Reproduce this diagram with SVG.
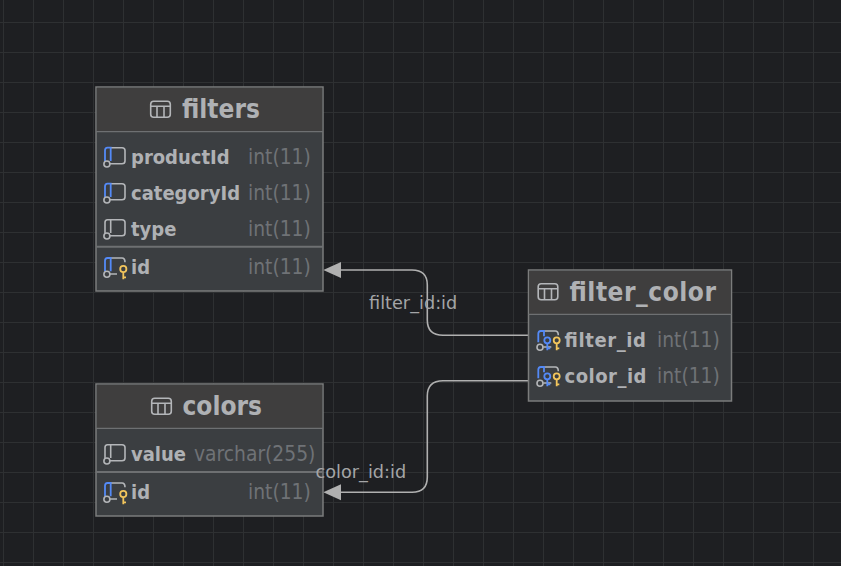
<svg xmlns="http://www.w3.org/2000/svg" width="841" height="566" viewBox="0 0 841 566">
<style>
.box{fill:#3b3e41;stroke:#7b7c7c;stroke-width:1.5}
.head{fill:#3f3e3e}
.hl{stroke:#6e7072;stroke-width:1.2;fill:none}
.sep{stroke:#6e7072;stroke-width:2;fill:none}
.title{font-family:"DejaVu Sans Condensed","DejaVu Sans",sans-serif;font-stretch:condensed;font-weight:bold;font-size:26px;fill:#afb1b4}
.name{font-family:"DejaVu Sans Condensed","DejaVu Sans",sans-serif;font-stretch:condensed;font-weight:bold;font-size:20px;fill:#afb1b4}
.type{font-family:"DejaVu Sans Condensed","DejaVu Sans",sans-serif;font-stretch:condensed;font-size:20.8px;fill:#6f7276}
.lbl{font-family:"DejaVu Sans",sans-serif;font-size:17.7px;fill:#a4a5a7}
.wire{fill:none;stroke:#b0b0b0;stroke-width:1.6}
.arrow{fill:#b0b0b0}
.ic{fill:none;stroke:#b4b6b9;stroke-width:1.6}
.bl{fill:none;stroke:#548af7;stroke-width:1.8}
.ye{fill:none;stroke:#f2c55c;stroke-width:1.8}
</style>
<defs>
<pattern id="grid" width="30" height="30" patternUnits="userSpaceOnUse" x="3" y="22">
<rect x="0" width="1" height="30" fill="#2e3032"/><rect y="0" width="30" height="1" fill="#2e3032"/>
</pattern>
<g id="tbl"><rect class="ic" x="0.7" y="0.7" width="19.6" height="16" rx="3"/><path class="ic" d="M1 5.7H20M7 5.7V16.5M14 5.7V16.5"/></g>
<g id="col"><path class="ic" d="M7 .7H18Q21 .7 21 3.500V14Q21 16.700 18 16.700H6"/><path class="ic" d="M6.700 .7V14"/><path class="ic" d="M1 14V3.500Q1 .7 3.500 .7H7"/><circle class="ic" cx="2.900" cy="17" r="3"/></g>
<g id="fk"><path class="ic" d="M7 .7H18Q21 .7 21 3.500V14Q21 16.700 18 16.700H6"/><path class="bl" d="M1 14V3.500Q1 .7 3.500 .7H6.700V14"/><circle class="ic" cx="2.900" cy="17" r="3"/></g>
<g id="pk"><path class="ic" d="M7 .7H18Q21 .7 21 5M13 16.700H6"/><path class="bl" d="M1 14V3.500Q1 .7 3.500 .7H6.700V14"/><circle class="ic" cx="2.900" cy="17" r="3"/><circle class="ye" cx="19.300" cy="11.700" r="3.100"/><path class="ye" d="M19.300 15V22M19.300 20H22"/></g>
<g id="pf"><path class="ic" d="M7 .7H18Q21 .7 21 5M14 16.700H6"/><path class="bl" d="M1 12V3.500Q1 .7 3.500 .7H6.700V6"/><circle class="ic" cx="2.700" cy="17" r="3"/><circle class="bl" cx="10" cy="10" r="3"/><path class="bl" d="M10 13V20M10 18H13"/><circle class="ye" cx="19.400" cy="10" r="3"/><path class="ye" d="M19.400 13V20M19.400 18H22"/></g>
</defs>
<rect width="841" height="566" fill="#1e1f22"/>
<rect width="841" height="566" fill="url(#grid)"/>
<g id="connectors">
<path class="wire" d="M528 335.300H443Q427.300 335.300 427.300 320V285Q427.300 270 412 270H341"/>
<path class="arrow" d="M323.300 270L341 262V278Z"/>
<path class="wire" d="M528 380.700H443Q427.300 380.700 427.300 396V477Q427.300 492.300 412 492.300H341"/>
<path class="arrow" d="M323.300 492.300L341 484.300V500.300Z"/>
</g>
<g id="filters">
<rect class="box" x="96" y="87" width="227" height="204"/>
<rect class="head" x="96.800" y="87.800" width="225.400" height="44"/>
<path class="hl" d="M96 131.700H323"/><path class="sep" d="M96 246.700H323"/>
<use href="#tbl" x="150" y="100.500"/>
<text class="title" x="182" y="118">filters</text>
<use href="#fk" x="104" y="147"/><text class="name" x="131" y="164">productId</text><text class="type" x="248" y="164">int(11)</text>
<use href="#fk" x="104" y="183"/><text class="name" x="131" y="200">categoryId</text><text class="type" x="248" y="200">int(11)</text>
<use href="#col" x="104" y="219"/><text class="name" x="131" y="236">type</text><text class="type" x="248" y="236">int(11)</text>
<use href="#pk" x="104" y="257.300"/><text class="name" x="131" y="274">id</text><text class="type" x="248" y="274">int(11)</text>
</g>
<g id="colors">
<rect class="box" x="96" y="384" width="227" height="132"/>
<rect class="head" x="96.800" y="384.800" width="225.400" height="44"/>
<path class="hl" d="M96 428.300H323"/><path class="sep" d="M96 472H323"/>
<use href="#tbl" x="151" y="397.500"/>
<text class="title" x="182.500" y="415">colors</text>
<use href="#col" x="104" y="444"/><text class="name" x="131" y="461">value</text><text class="type" x="194" y="461">varchar(255)</text>
<use href="#pk" x="104" y="482.300"/><text class="name" x="131" y="499">id</text><text class="type" x="248" y="499">int(11)</text>
</g>
<g id="filter_color">
<rect class="box" x="528.500" y="270" width="203" height="131"/>
<rect class="head" x="529.300" y="270.800" width="201.400" height="44"/>
<path class="hl" d="M528.500 314.300H731.500"/>
<use href="#tbl" x="537.500" y="283"/>
<text class="title" x="569.500" y="301" textLength="146.500">filter_color</text>
<use href="#pf" x="537.300" y="330.300"/><text class="name" x="564.500" y="347" textLength="81.500">filter_id</text><text class="type" x="657" y="347">int(11)</text>
<use href="#pf" x="537.300" y="366.300"/><text class="name" x="564.500" y="383" textLength="82">color_id</text><text class="type" x="657" y="383">int(11)</text>
</g>
<g id="labels">
<text class="lbl" x="369" y="309">filter_id:id</text>
<text class="lbl" x="315.500" y="478">color_id:id</text>
</g>
</svg>
